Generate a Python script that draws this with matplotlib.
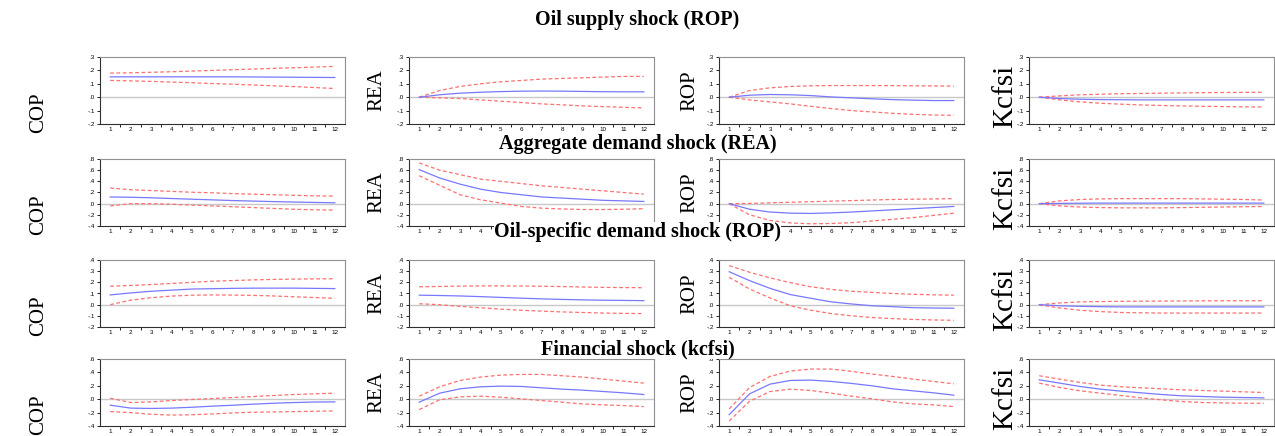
"""
impulse responses - 4 shocks x 4 variables, eviews style panels.
"""
import matplotlib.pyplot as plt
from matplotlib.ticker import FixedLocator, FuncFormatter

periods = list(range(1, 13))
variables = ["COP", "REA", "ROP", "Kcfsi"]
shock_titles = ["Oil supply shock (ROP)", "Aggregate demand shock (REA)",
                "Oil-specific demand shock (ROP)", "Financial shock (kcfsi)"]

# oil supply shock
oil_cop = [0.152, 0.152, 0.152, 0.152, 0.152, 0.152, 0.152, 0.151, 0.150, 0.149, 0.148, 0.147]
oil_cop_lo = [0.125, 0.122, 0.118, 0.113, 0.108, 0.102, 0.097, 0.091, 0.085, 0.079, 0.072, 0.065]
oil_cop_hi = [0.180, 0.182, 0.186, 0.190, 0.195, 0.200, 0.205, 0.210, 0.215, 0.220, 0.225, 0.230]
oil_rea = [0.0, 0.018, 0.030, 0.037, 0.042, 0.045, 0.046, 0.045, 0.043, 0.041, 0.040, 0.040]
oil_rea_lo = [0.0, -0.005, -0.010, -0.020, -0.030, -0.040, -0.050, -0.057, -0.065, -0.070, -0.075, -0.080]
oil_rea_hi = [0.0, 0.050, 0.080, 0.100, 0.115, 0.125, 0.135, 0.140, 0.145, 0.150, 0.155, 0.155]
oil_rop = [0.0, 0.015, 0.020, 0.018, 0.012, 0.002, -0.005, -0.012, -0.018, -0.022, -0.025, -0.025]
oil_rop_lo = [0.0, -0.020, -0.035, -0.050, -0.068, -0.085, -0.100, -0.110, -0.120, -0.128, -0.133, -0.135]
oil_rop_hi = [0.0, 0.050, 0.070, 0.080, 0.085, 0.087, 0.087, 0.087, 0.086, 0.085, 0.084, 0.083]
oil_kcfsi = [0.0, -0.010, -0.015, -0.018, -0.019, -0.020, -0.020, -0.020, -0.020, -0.020, -0.020, -0.020]
oil_kcfsi_lo = [0.0, -0.020, -0.035, -0.045, -0.052, -0.058, -0.062, -0.065, -0.068, -0.070, -0.072, -0.073]
oil_kcfsi_hi = [0.0, 0.010, 0.018, 0.022, 0.026, 0.028, 0.030, 0.032, 0.034, 0.035, 0.036, 0.037]

# aggregate demand shock
ad_cop = [0.120, 0.115, 0.105, 0.092, 0.080, 0.068, 0.056, 0.046, 0.037, 0.029, 0.022, 0.016]
ad_cop_lo = [-0.040, 0.0, 0.0, -0.010, -0.025, -0.040, -0.055, -0.070, -0.085, -0.100, -0.110, -0.115]
ad_cop_hi = [0.280, 0.250, 0.235, 0.220, 0.205, 0.195, 0.180, 0.170, 0.160, 0.150, 0.140, 0.135]
ad_rea = [0.61, 0.46, 0.35, 0.26, 0.20, 0.16, 0.12, 0.10, 0.08, 0.06, 0.05, 0.04]
ad_rea_lo = [0.50, 0.33, 0.16, 0.07, 0.01, -0.05, -0.08, -0.095, -0.105, -0.105, -0.10, -0.09]
ad_rea_hi = [0.73, 0.60, 0.52, 0.44, 0.40, 0.36, 0.32, 0.29, 0.26, 0.23, 0.20, 0.17]
ad_rop = [0.0, -0.10, -0.15, -0.17, -0.175, -0.165, -0.15, -0.13, -0.11, -0.09, -0.07, -0.05]
ad_rop_lo = [0.0, -0.20, -0.30, -0.345, -0.36, -0.355, -0.34, -0.31, -0.28, -0.25, -0.21, -0.17]
ad_rop_hi = [0.0, 0.005, 0.015, 0.025, 0.035, 0.045, 0.055, 0.065, 0.075, 0.08, 0.085, 0.09]
ad_kcfsi = [0.0, 0.005, 0.008, 0.010, 0.010, 0.010, 0.010, 0.010, 0.010, 0.010, 0.010, 0.010]
ad_kcfsi_lo = [0.0, -0.04, -0.06, -0.07, -0.075, -0.075, -0.075, -0.07, -0.065, -0.06, -0.055, -0.05]
ad_kcfsi_hi = [0.0, 0.05, 0.075, 0.085, 0.09, 0.09, 0.09, 0.09, 0.085, 0.08, 0.075, 0.065]

# oil-specific demand shock
os_cop = [0.087, 0.105, 0.120, 0.130, 0.140, 0.143, 0.146, 0.148, 0.148, 0.148, 0.146, 0.144]
os_cop_lo = [0.0, 0.040, 0.062, 0.077, 0.085, 0.087, 0.086, 0.083, 0.078, 0.071, 0.064, 0.057]
os_cop_hi = [0.165, 0.172, 0.180, 0.190, 0.200, 0.210, 0.216, 0.222, 0.226, 0.229, 0.231, 0.232]
os_rea = [0.085, 0.082, 0.078, 0.072, 0.065, 0.058, 0.052, 0.047, 0.043, 0.040, 0.038, 0.036]
os_rea_lo = [0.008, 0.0, -0.015, -0.028, -0.040, -0.050, -0.058, -0.065, -0.070, -0.075, -0.078, -0.080]
os_rea_hi = [0.160, 0.163, 0.166, 0.168, 0.168, 0.167, 0.165, 0.162, 0.158, 0.155, 0.153, 0.152]
os_rop = [0.295, 0.215, 0.146, 0.090, 0.057, 0.025, 0.006, -0.010, -0.018, -0.027, -0.030, -0.032]
os_rop_lo = [0.245, 0.140, 0.060, -0.010, -0.050, -0.080, -0.100, -0.115, -0.125, -0.132, -0.137, -0.140]
os_rop_hi = [0.350, 0.290, 0.240, 0.197, 0.160, 0.137, 0.120, 0.110, 0.100, 0.093, 0.088, 0.085]
os_kcfsi = [0.0, -0.010, -0.015, -0.018, -0.020, -0.020, -0.020, -0.020, -0.020, -0.020, -0.020, -0.020]
os_kcfsi_lo = [0.0, -0.030, -0.050, -0.062, -0.070, -0.073, -0.075, -0.075, -0.075, -0.075, -0.075, -0.075]
os_kcfsi_hi = [0.0, 0.015, 0.025, 0.028, 0.030, 0.031, 0.032, 0.033, 0.034, 0.035, 0.035, 0.035]

# financial shock
fin_cop = [-0.089, -0.133, -0.138, -0.133, -0.120, -0.104, -0.090, -0.074, -0.060, -0.050, -0.042, -0.040]
fin_cop_lo = [-0.185, -0.200, -0.225, -0.237, -0.232, -0.220, -0.205, -0.195, -0.190, -0.185, -0.180, -0.175]
fin_cop_hi = [0.015, -0.050, -0.040, -0.020, -0.005, 0.010, 0.025, 0.040, 0.055, 0.070, 0.080, 0.090]
fin_rea = [-0.045, 0.090, 0.155, 0.185, 0.195, 0.190, 0.170, 0.150, 0.135, 0.115, 0.095, 0.070]
fin_rea_lo = [-0.155, -0.010, 0.035, 0.045, 0.030, 0.005, -0.020, -0.045, -0.070, -0.085, -0.095, -0.110]
fin_rea_hi = [0.045, 0.185, 0.280, 0.330, 0.360, 0.370, 0.370, 0.350, 0.330, 0.300, 0.270, 0.240]
fin_rop = [-0.230, 0.080, 0.225, 0.280, 0.285, 0.265, 0.235, 0.200, 0.155, 0.125, 0.095, 0.060]
fin_rop_lo = [-0.325, -0.030, 0.115, 0.150, 0.130, 0.090, 0.045, 0.005, -0.040, -0.070, -0.085, -0.110]
fin_rop_hi = [-0.145, 0.175, 0.340, 0.420, 0.450, 0.450, 0.415, 0.375, 0.340, 0.300, 0.265, 0.230]
fin_kcfsi = [0.290, 0.240, 0.190, 0.150, 0.120, 0.095, 0.070, 0.050, 0.040, 0.030, 0.025, 0.020]
fin_kcfsi_lo = [0.240, 0.175, 0.125, 0.090, 0.055, 0.020, -0.010, -0.035, -0.050, -0.055, -0.060, -0.060]
fin_kcfsi_hi = [0.350, 0.300, 0.250, 0.210, 0.185, 0.170, 0.155, 0.140, 0.130, 0.120, 0.110, 0.100]

# y ticks per shock row
yticks_oil = [-0.2, -0.1, 0.0, 0.1, 0.2, 0.3]
yticks_ad = [-0.4, -0.2, 0.0, 0.2, 0.4, 0.6, 0.8]
yticks_os = [-0.2, -0.1, 0.0, 0.1, 0.2, 0.3, 0.4]
yticks_fin = [-0.4, -0.2, 0.0, 0.2, 0.4, 0.6]

rows = [
    (yticks_oil, [(oil_cop, oil_cop_lo, oil_cop_hi), (oil_rea, oil_rea_lo, oil_rea_hi),
                  (oil_rop, oil_rop_lo, oil_rop_hi), (oil_kcfsi, oil_kcfsi_lo, oil_kcfsi_hi)]),
    (yticks_ad, [(ad_cop, ad_cop_lo, ad_cop_hi), (ad_rea, ad_rea_lo, ad_rea_hi),
                 (ad_rop, ad_rop_lo, ad_rop_hi), (ad_kcfsi, ad_kcfsi_lo, ad_kcfsi_hi)]),
    (yticks_os, [(os_cop, os_cop_lo, os_cop_hi), (os_rea, os_rea_lo, os_rea_hi),
                 (os_rop, os_rop_lo, os_rop_hi), (os_kcfsi, os_kcfsi_lo, os_kcfsi_hi)]),
    (yticks_fin, [(fin_cop, fin_cop_lo, fin_cop_hi), (fin_rea, fin_rea_lo, fin_rea_hi),
                  (fin_rop, fin_rop_lo, fin_rop_hi), (fin_kcfsi, fin_kcfsi_lo, fin_kcfsi_hi)]),
]


def eviews_fmt(v, pos=None):
    s = f"{v:.1f}"
    return s.replace("0.", ".")


W, H = 1275, 436
fig = plt.figure(figsize=(W / 100, H / 100), dpi=100)

col_left = [100, 409, 719, 1029]
row_top = [57, 159, 260, 359]
ax_w, ax_h = 245, 67
label_x = [39, 377, 690, 1005]
label_dy = [22, 0, 0, 6]
title_y = [20, 144, 232, 349]

for r, (yt, panels) in enumerate(rows):
    for c, (mid, lo, hi) in enumerate(panels):
        ax = fig.add_axes([col_left[c] / W, 1 - (row_top[r] + ax_h) / H, ax_w / W, ax_h / H])
        ax.axhline(0, color="#c8c8c8", lw=1, zorder=1)
        ax.plot(periods, hi, color="#ff7070", lw=0.9, dashes=(3, 2), zorder=2)
        ax.plot(periods, lo, color="#ff7070", lw=0.9, dashes=(3, 2), zorder=2)
        ax.plot(periods, mid, color="#7878ff", lw=0.9, zorder=3)
        ax.set_xlim(0.5, 12.5)
        ax.set_ylim(yt[0], yt[-1])
        ax.set_yticks(yt)
        ax.yaxis.set_major_formatter(FuncFormatter(eviews_fmt))
        ax.set_xticks(periods)
        ax.xaxis.set_minor_locator(FixedLocator([p + 0.5 for p in periods[:-1]]))
        ax.tick_params(axis="x", which="major", length=0, labelsize=4.5, pad=2.5)
        ax.tick_params(axis="x", which="minor", length=2, width=0.6, direction="out")
        ax.tick_params(axis="y", length=2, width=0.6, labelsize=4.5, pad=1.5)
        for lab in ax.get_xticklabels() + ax.get_yticklabels():
            lab.set_family("Liberation Sans")
        for side in ["top", "right"]:
            ax.spines[side].set_color("#909090")
        for side in ["left", "bottom"]:
            ax.spines[side].set_color("#303030")
        for s in ax.spines.values():
            s.set_linewidth(0.8)
        fs = 21 if variables[c] == "Kcfsi" else 15
        fig.text(label_x[c] / W, 1 - (row_top[r] + ax_h / 2 + label_dy[c]) / H, variables[c],
                 rotation=90, ha="center", va="center", family="Liberation Serif", fontsize=fs)

# shock titles go on top so they cover the tick labels they cross
for r in range(4):
    fig.text(0.5, 1 - title_y[r] / H, shock_titles[r], ha="center", va="center",
             family="Liberation Serif", weight="bold", fontsize=14.5,
             bbox=dict(facecolor="white", edgecolor="none", pad=0))

fig.savefig("out.png", dpi=100)
